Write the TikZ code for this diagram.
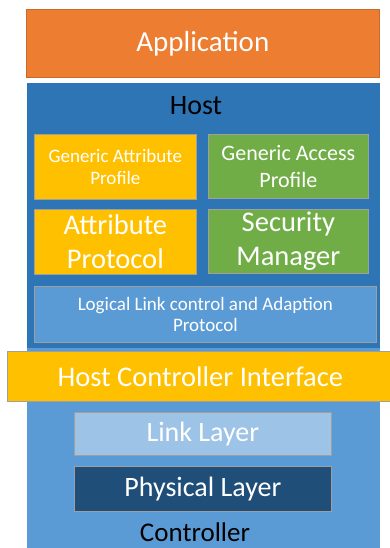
\documentclass[tikz,border=0pt]{standalone}
\usepackage{fontspec}
\setmainfont{Carlito}
\definecolor{appOrange}{HTML}{ED7D31}
\definecolor{hostBlue}{HTML}{2E75B6}
\definecolor{ctrlBlue}{HTML}{5B9BD5}
\definecolor{gattYellow}{HTML}{FFC000}
\definecolor{gapGreen}{HTML}{70AD47}
\definecolor{linkBlue}{HTML}{9DC3E6}
\definecolor{phyBlue}{HTML}{1F4E79}
\tikzset{
	layer/.style={draw=gray!75, line width=0.7pt, text=white, inner sep=0pt,
		align=center, anchor=north west},
	area/.style={inner sep=0pt, anchor=north west},
}
\begin{document}
\begin{tikzpicture}[x=1pt,y=-1pt]
	\useasboundingbox (0,0) rectangle (390,548);
	% outer blocks
	\node[layer,draw=appOrange!85!black,fill=appOrange,minimum width=353pt,minimum height=68pt,font=\fontsize{29}{32}\selectfont]
		(app) at (26,9) {Application};
	\node[area,fill=hostBlue,minimum width=353pt,minimum height=266pt] (host) at (27,83) {};
	\node[area,fill=ctrlBlue,minimum width=353pt,minimum height=201pt] (ctrl) at (27,348) {};
	\node[font=\fontsize{28}{30}\selectfont] (hostlbl) at (196,106) {Host};
	\node[font=\fontsize{27}{30}\selectfont,anchor=base,inner sep=0pt] (ctrllbl) at (195,541) {Controller};
	% host layers
	\node[layer,fill=gattYellow,minimum width=162pt,minimum height=65pt,font=\fontsize{19}{22}\selectfont] (gatt) at (34,134)
		{Generic Attribute\\Profile};
	\node[layer,fill=gapGreen,minimum width=160pt,minimum height=64pt,font=\fontsize{22}{27}\selectfont] (gap) at (208,134)
		{Generic Access\\Profile};
	\begin{scope}[font=\fontsize{28.5}{34}\selectfont]
	\node[layer,fill=gattYellow,minimum width=162pt,minimum height=65pt] (att) at (34,209)
		{Attribute\\Protocol};
	\node[layer,fill=gapGreen,minimum width=160pt,minimum height=64pt] (sm) at (208,209)
		{Security\\Manager};
	\end{scope}
	\node[layer,fill=ctrlBlue,minimum width=342pt,minimum height=56pt,font=\fontsize{19}{21}\selectfont] (l2cap) at (34,286)
		{Logical Link control and Adaption\\Protocol};
	% interface and controller layers
	\node[layer,fill=gattYellow,minimum width=386pt,minimum height=50pt,font=\fontsize{28.5}{30}\selectfont] (hci) at (7,351)
		{Host Controller Interface};
	\node[layer,fill=linkBlue,minimum width=257pt,minimum height=43pt,font=\fontsize{28}{30}\selectfont] (ll) at (74,412)
		{Link Layer};
	\node[layer,fill=phyBlue,minimum width=257pt,minimum height=45pt,font=\fontsize{28}{30}\selectfont] (phy) at (74,466)
		{Physical Layer};
\end{tikzpicture}
\end{document}
